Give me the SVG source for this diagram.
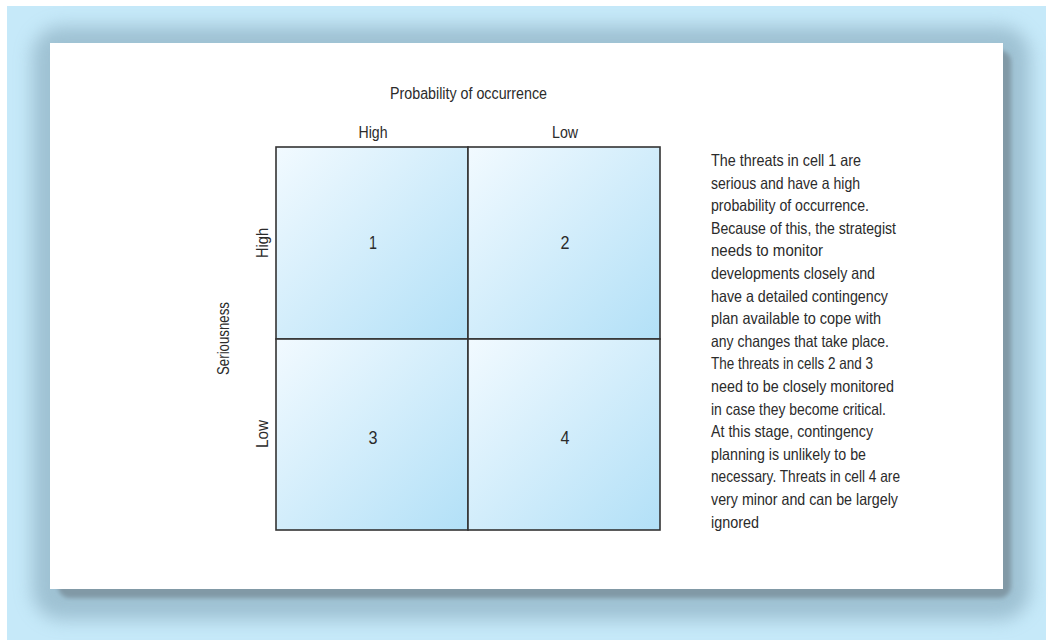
<svg xmlns="http://www.w3.org/2000/svg" width="1048" height="643" viewBox="0 0 1048 643">
<style>
text{font-family:"Liberation Sans",Arial,sans-serif;fill:#2b2b2b;font-size:16px}
.lbl{text-anchor:middle}
.num{text-anchor:middle;font-size:19px}
.p{font-size:16.5px}
.cell{stroke:#333;stroke-width:1.6}
</style>
<defs>
<linearGradient id="g" x1="0" y1="0" x2="1" y2="1">
<stop offset="0" stop-color="#f2faff"/>
<stop offset="1" stop-color="#b2e0f7"/>
</linearGradient>
<filter id="blur" x="-10%" y="-10%" width="120%" height="120%"><feGaussianBlur stdDeviation="9"/></filter>
<filter id="blur2" x="-5%" y="-5%" width="110%" height="110%"><feGaussianBlur stdDeviation="2"/></filter>
</defs>
<rect x="7" y="6" width="1039" height="634" fill="#c6e9f9"/>
<rect x="32" y="26" width="998" height="594" rx="30" fill="#8eb1c3" opacity="0.7" filter="url(#blur)"/>
<rect x="58" y="50" width="953" height="548" rx="12" fill="#8199a6" filter="url(#blur2)"/>
<rect x="50" y="43" width="953" height="546" fill="#ffffff"/>
<g id="axis-labels">
<text class="lbl" x="468.5" y="99" textLength="157" lengthAdjust="spacingAndGlyphs">Probability of occurrence</text>
<text class="lbl" x="373" y="138" textLength="29" lengthAdjust="spacingAndGlyphs">High</text>
<text class="lbl" x="565" y="138" textLength="26" lengthAdjust="spacingAndGlyphs">Low</text>
<text class="lbl" transform="translate(268,243) rotate(-90)" textLength="30" lengthAdjust="spacingAndGlyphs">High</text>
<text class="lbl" transform="translate(268,434) rotate(-90)" textLength="28" lengthAdjust="spacingAndGlyphs">Low</text>
<text class="lbl" transform="translate(229,338.5) rotate(-90)" textLength="73" lengthAdjust="spacingAndGlyphs">Seriousness</text>
</g>
<g id="cell1"><rect class="cell" x="276" y="147" width="192" height="192" fill="url(#g)"/><text class="num" x="373" y="249" textLength="8" lengthAdjust="spacingAndGlyphs">1</text></g>
<g id="cell2"><rect class="cell" x="468" y="147" width="192" height="192" fill="url(#g)"/><text class="num" x="565" y="249" textLength="9" lengthAdjust="spacingAndGlyphs">2</text></g>
<g id="cell3"><rect class="cell" x="276" y="339" width="192" height="191" fill="url(#g)"/><text class="num" x="373" y="444" textLength="9" lengthAdjust="spacingAndGlyphs">3</text></g>
<g id="cell4"><rect class="cell" x="468" y="339" width="192" height="191" fill="url(#g)"/><text class="num" x="565" y="444" textLength="9" lengthAdjust="spacingAndGlyphs">4</text></g>
<g id="description">
<text class="p" x="711" y="166" textLength="150" lengthAdjust="spacingAndGlyphs">The threats in cell 1 are</text>
<text class="p" x="711" y="188.6" textLength="149" lengthAdjust="spacingAndGlyphs">serious and have a high</text>
<text class="p" x="711" y="211.2" textLength="158" lengthAdjust="spacingAndGlyphs">probability of occurrence.</text>
<text class="p" x="711" y="233.8" textLength="185" lengthAdjust="spacingAndGlyphs">Because of this, the strategist</text>
<text class="p" x="711" y="256.4" textLength="112" lengthAdjust="spacingAndGlyphs">needs to monitor</text>
<text class="p" x="711" y="279" textLength="164" lengthAdjust="spacingAndGlyphs">developments closely and</text>
<text class="p" x="711" y="301.6" textLength="177" lengthAdjust="spacingAndGlyphs">have a detailed contingency</text>
<text class="p" x="711" y="324.2" textLength="170" lengthAdjust="spacingAndGlyphs">plan available to cope with</text>
<text class="p" x="711" y="346.8" textLength="178" lengthAdjust="spacingAndGlyphs">any changes that take place.</text>
<text class="p" x="711" y="369.4" textLength="162" lengthAdjust="spacingAndGlyphs">The threats in cells 2 and 3</text>
<text class="p" x="711" y="392" textLength="183" lengthAdjust="spacingAndGlyphs">need to be closely monitored</text>
<text class="p" x="711" y="414.6" textLength="175" lengthAdjust="spacingAndGlyphs">in case they become critical.</text>
<text class="p" x="711" y="437.2" textLength="162" lengthAdjust="spacingAndGlyphs">At this stage, contingency</text>
<text class="p" x="711" y="459.8" textLength="155" lengthAdjust="spacingAndGlyphs">planning is unlikely to be</text>
<text class="p" x="711" y="482.4" textLength="189" lengthAdjust="spacingAndGlyphs">necessary. Threats in cell 4 are</text>
<text class="p" x="711" y="505" textLength="187" lengthAdjust="spacingAndGlyphs">very minor and can be largely</text>
<text class="p" x="711" y="527.6" textLength="48" lengthAdjust="spacingAndGlyphs">ignored</text>
</g>
</svg>
